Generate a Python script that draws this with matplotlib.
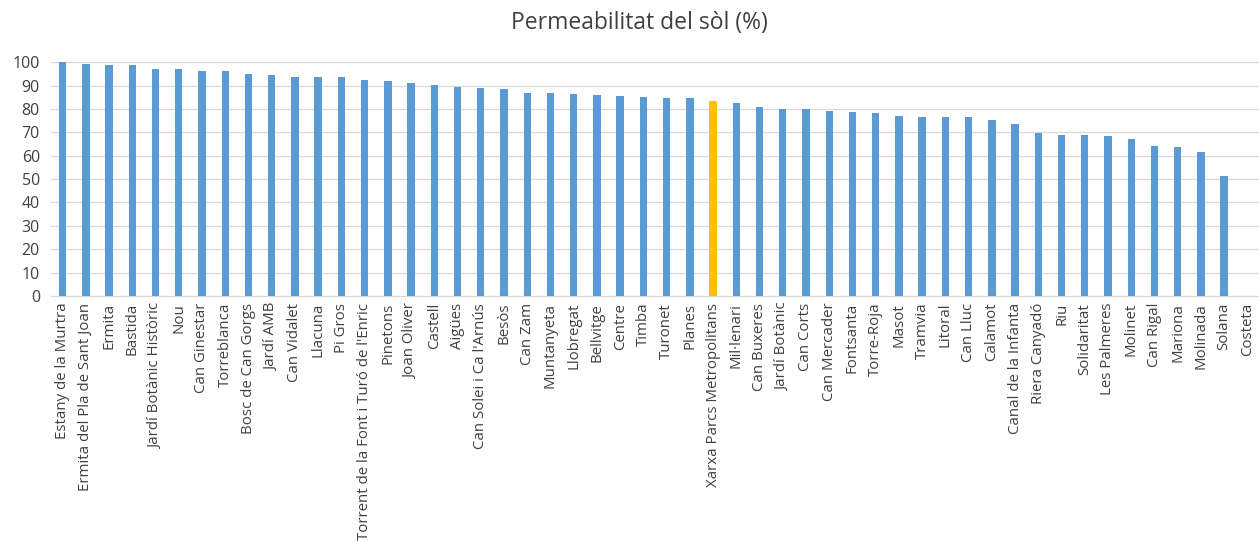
import matplotlib
matplotlib.use("Agg")
import matplotlib.pyplot as plt

# ======================================================
# Data
# ======================================================
PARKS = [
    "Estany de la Murtra", "Ermita del Pla de Sant Joan", "Ermita", "Bastida",
    "Jardí Botànic Històric", "Nou", "Can Ginestar", "Torreblanca",
    "Bosc de Can Gorgs", "Jardí AMB", "Can Vidalet", "Llacuna", "Pi Gros",
    "Torrent de la Font i Turó de l'Enric", "Pinetons", "Joan Oliver", "Castell",
    "Aigües", "Can Solei i Ca l'Arnús", "Besòs", "Can Zam", "Muntanyeta",
    "Llobregat", "Bellvitge", "Centre", "Timba", "Turonet", "Planes",
    "Xarxa Parcs Metropolitans", "Mil·lenari", "Can Buxeres", "Jardí Botànic",
    "Can Corts", "Can Mercader", "Fontsanta", "Torre-Roja", "Masot", "Tramvia",
    "Litoral", "Can Lluc", "Calamot", "Canal de la Infanta", "Riera Canyadó",
    "Riu", "Solidaritat", "Les Palmeres", "Molinet", "Can Rigal", "Mariona",
    "Molinada", "Solana", "Costeta",
]
PERMEABILITY = [
    100.0, 99.4, 99.0, 98.7, 97.1, 97.1, 96.4, 96.4, 94.9, 94.4, 93.7, 93.7,
    93.7, 92.6, 92.1, 91.0, 90.1, 89.3, 88.9, 88.5, 87.0, 87.0, 86.3, 85.9,
    85.4, 85.0, 84.6, 84.6, 83.4, 82.4, 80.9, 80.0, 79.8, 79.3, 78.9, 78.2,
    76.9, 76.5, 76.5, 76.5, 75.4, 73.5, 69.7, 68.8, 68.8, 68.4, 67.0, 64.2,
    63.8, 61.4, 51.4, 0.0,
]
HIGHLIGHT = "Xarxa Parcs Metropolitans"
Y_TICKS = list(range(0, 101, 10))

BLUE = "#5B9BD5"
YELLOW = "#FFC000"
TEXT_GREY = "#404040"


def main():
    plt.rcParams["font.family"] = ["Open Sans", "DejaVu Sans"]

    fig = plt.figure(figsize=(12.59, 5.41), dpi=100)
    # axes spans the full right edge, like the clipped reference
    ax = fig.add_axes([0.0405, 0.453, 0.9595, 0.432])

    colors = [YELLOW if p == HIGHLIGHT else BLUE for p in PARKS]
    x = range(len(PARKS))
    ax.bar(x, PERMEABILITY, width=0.32, color=colors, zorder=3)

    ax.set_xlim(-0.5, len(PARKS) - 0.5)
    ax.set_ylim(0, 100)
    ax.set_yticks(Y_TICKS)
    ax.set_xticks(list(x))
    ax.set_xticklabels(PARKS, rotation=90, fontsize=10.8, color=TEXT_GREY)
    ax.tick_params(axis="y", labelsize=11.5, labelcolor=TEXT_GREY, length=0, pad=8)
    ax.tick_params(axis="x", length=0, pad=5)

    ax.grid(axis="y", color="#D9D9D9", linewidth=0.9, zorder=0)
    for side in ["top", "right", "left"]:
        ax.spines[side].set_visible(False)
    ax.spines["bottom"].set_color("#D9D9D9")

    fig.text(0.508, 0.958, "Permeabilitat del sòl (%)", ha="center", va="center",
             fontsize=16.5, color=TEXT_GREY)

    fig.savefig("out.png", dpi=100)
    plt.close(fig)


if __name__ == "__main__":
    main()
